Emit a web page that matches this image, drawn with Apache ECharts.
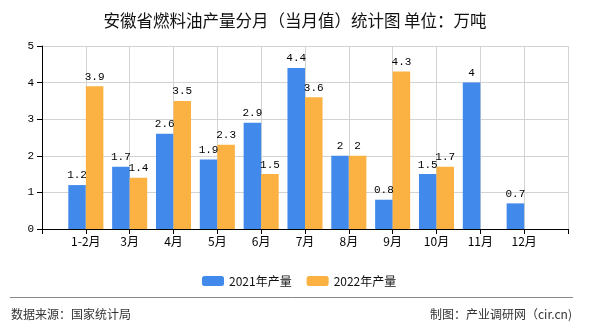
<!DOCTYPE html>
<html>
<head>
<meta charset="utf-8">
<script src="https://cdn.jsdelivr.net/npm/echarts@6/dist/echarts.min.js"></script>
<style>
html,body{margin:0;padding:0;background:#fff;}
#chart{width:590px;height:330px;}
</style>
</head>
<body>
<div id="chart"></div>
<script>
var titleText = '安徽省燃料油产量分月（当月值）统计图 单位：万吨';
var months = ['1-2月', '3月', '4月', '5月', '6月', '7月', '8月', '9月', '10月', '11月', '12月'];
var seriesNames = ['2021年产量', '2022年产量'];
var values2021 = [1.2, 1.7, 2.6, 1.9, 2.9, 4.4, 2, 0.8, 1.5, 4, 0.7];
var values2022 = [3.9, 1.4, 3.5, 2.3, 1.5, 3.6, 2, 4.3, 1.7, null, null];
var yTicks = [0, 1, 2, 3, 4, 5];
var sourceText = '数据来源：国家统计局';
var makerText = '制图：产业调研网（cir.cn)';

// axis has an empty slot before the first and after the last month
var categories = [''].concat(months).concat(['']);
function pad(arr) { return [null].concat(arr).concat([null]); }

var cjk = "'Noto Sans CJK SC', 'Microsoft YaHei', sans-serif";
var mono = "'Liberation Mono', 'DejaVu Sans Mono', monospace";

var chart = echarts.init(document.getElementById('chart'), null, {renderer: 'canvas'});
var labelStyle = {
  show: true,
  position: 'top',
  distance: 4,
  color: '#000',
  fontFamily: mono,
  fontSize: 11,
  formatter: function (p) { return p.value == null ? '' : String(p.value); }
};
chart.setOption({
  animation: false,
  backgroundColor: '#fff',
  title: {
    text: titleText,
    left: 'center',
    top: 7,
    textStyle: {fontFamily: cjk, fontSize: 16.5, fontWeight: 'normal', color: '#111'}
  },
  legend: {
    data: seriesNames,
    left: 197,
    top: 270,
    itemWidth: 22,
    itemHeight: 10,
    itemGap: 15,
    textStyle: {fontFamily: cjk, fontSize: 12, color: '#111'}
  },
  grid: {left: 42, right: 22, top: 46, bottom: 101, containLabel: false},
  xAxis: {
    type: 'category',
    data: categories,
    boundaryGap: false,
    axisLine: {lineStyle: {color: '#000', width: 1}},
    axisTick: {show: true, length: 5, lineStyle: {color: '#000'}},
    axisLabel: {color: '#000', fontFamily: cjk, fontSize: 12, margin: 6, interval: 0},
    splitLine: {show: true, lineStyle: {color: '#d3d3d3', width: 1}}
  },
  yAxis: {
    type: 'value',
    min: yTicks[0],
    max: yTicks[yTicks.length - 1],
    interval: 1,
    axisLine: {show: true, lineStyle: {color: '#000', width: 1}},
    axisTick: {show: true, length: 5, lineStyle: {color: '#000'}},
    axisLabel: {color: '#000', fontFamily: mono, fontSize: 11, margin: 8},
    splitLine: {show: true, lineStyle: {color: '#d3d3d3', width: 1}}
  },
  series: [
    {
      name: seriesNames[0],
      type: 'bar',
      data: pad(values2021),
      barGap: '0%',
      barCategoryGap: '20%',
      itemStyle: {color: '#418AEC'},
      label: labelStyle
    },
    {
      name: seriesNames[1],
      type: 'bar',
      data: pad(values2022),
      barGap: '0%',
      barCategoryGap: '20%',
      itemStyle: {color: '#FBB242'},
      label: labelStyle
    }
  ],
  graphic: [
    {
      type: 'line',
      shape: {x1: 10, y1: 297.5, x2: 573, y2: 297.5},
      style: {stroke: '#888', lineWidth: 1}
    },
    {
      type: 'text',
      left: 11,
      top: 308,
      style: {text: sourceText, fill: '#333', font: '12px ' + cjk}
    },
    {
      type: 'text',
      right: 18,
      top: 308,
      style: {text: makerText, fill: '#333', font: '12px ' + cjk}
    }
  ]
});
</script>
</body>
</html>
